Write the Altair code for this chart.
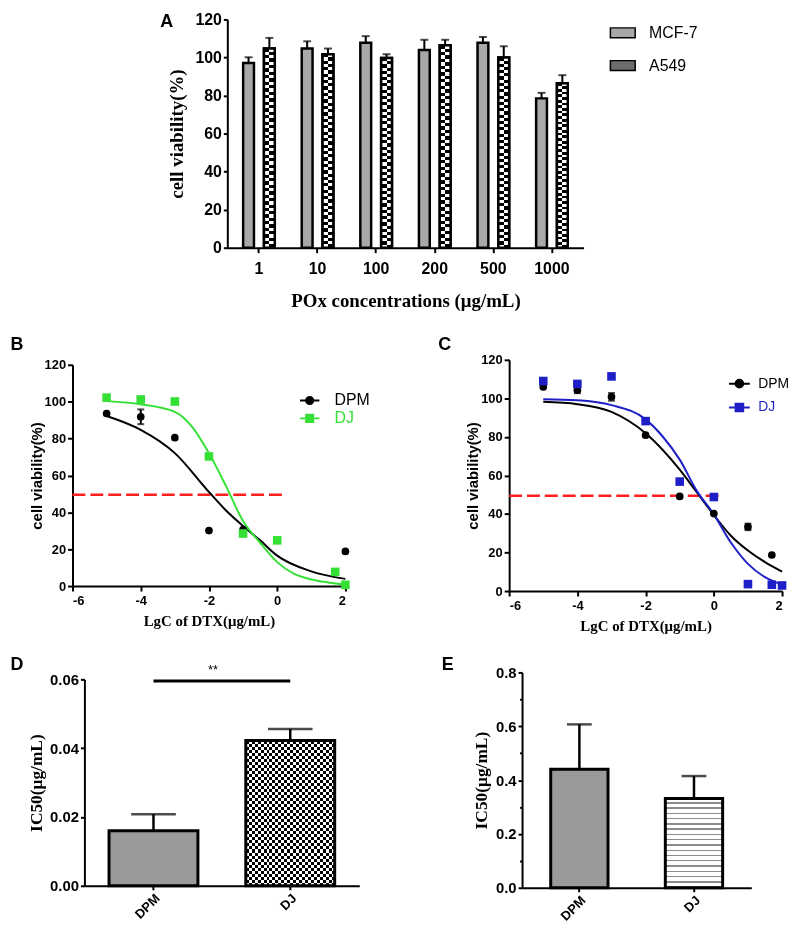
import altair as alt
import pandas as pd

# ---------------- Panel A: POx cytotoxicity ----------------
conc = ["1", "10", "100", "200", "500", "1000"]
cell_lines = ["MCF-7", "A549"]
mcf7_mean = [97.1, 104.7, 107.8, 103.9, 107.8, 78.5]
mcf7_sd = [3.0, 3.8, 3.4, 5.4, 3.0, 2.9]
a549_mean = [104.7, 101.7, 99.7, 106.4, 100.0, 86.4]
a549_sd = [5.6, 3.0, 2.0, 2.9, 5.9, 4.3]

# ---------------- Panel B: MCF-7 dose response ----------------
formulations = ["DPM", "DJ"]
b_dpm_x = [-5, -4, -3, -2, -1, 2]
b_dpm_y = [93.6, 91.8, 80.5, 30.1, 30.7, 18.8]
b_dpm_sd = [0, 4.0, 0, 0, 0, 0]
b_dj_x = [-5, -4, -3, -2, -1, 0, 1.7, 2]
b_dj_y = [102.2, 101.2, 100.1, 70.3, 28.5, 24.8, 7.7, 0.7]
b_dj_sd = [0, 0, 0, 0, 0, 0, 0, 0]
b_fit_dpm_x = [-5, -4, -3, -2, -1.5, -1, -0.5, 0, 1, 2]
b_fit_dpm_y = [92.2, 84.7, 72.1, 51.0, 41.0, 32.6, 24.8, 16.5, 8.0, 3.9]
b_fit_dj_x = [-5, -4, -3, -2.5, -2, -1.5, -1, -0.5, 0, 0.5, 1, 1.5, 2]
b_fit_dj_y = [100.3, 98.6, 94.5, 86.5, 72.1, 54.2, 35.3, 23.5, 13.0, 6.6, 3.6, 2.0, 0.9]
b_half_line = [-6, 0.2, 49.5]

# ---------------- Panel C: A549 dose response ----------------
c_dpm_x = [-5, -4, -3, -2, -1, 0, 1, 1.7]
c_dpm_y = [105.9, 104.2, 100.8, 80.9, 49.1, 40.2, 33.3, 18.7]
c_dpm_sd = [0, 1.5, 2.0, 0, 0, 0, 1.7, 0]
c_dj_x = [-5, -4, -3, -2, -1, 0, 1, 1.7, 2]
c_dj_y = [109.0, 107.5, 111.4, 88.2, 56.8, 48.8, 3.6, 3.3, 2.9]
c_dj_sd = [0.8, 1.5, 0, 0, 0, 0, 0, 0, 0]
c_fit_dpm_x = [-5, -4, -3, -2, -1, -0.5, 0, 0.5, 1, 1.5, 2]
c_fit_dpm_y = [98.2, 97.0, 93.0, 81.9, 63.0, 51.3, 39.5, 28.7, 21.0, 15.0, 10.1]
c_fit_dj_x = [-5, -4, -3, -2, -1.5, -1, -0.5, 0, 0.5, 1, 1.5, 2]
c_fit_dj_y = [99.6, 99.0, 96.5, 89.1, 80.2, 68.2, 52.0, 39.8, 25.2, 14.1, 7.2, 3.3]
c_half_line = [-6, 0.15, 49.5]

# ---------------- Panels D / E: IC50 ----------------
d_ic50 = [0.016, 0.0422]
d_sd = [0.0048, 0.0034]
d_sig = ["DPM", "DJ", 0.0595, "**"]
e_ic50 = [0.44, 0.332]
e_sd = [0.167, 0.083]

GREEN = "#35e035"
BLUE = "#1f1fc8"
RED = "#ff1f1f"
SANS = "Liberation Sans"
SERIF = "Liberation Serif"


def letter(ch, dx, dy):
    return alt.Chart(pd.DataFrame({"t": [ch]})).mark_text(
        font=SANS, fontWeight="bold", fontSize=18, color="black"
    ).encode(text="t:N", x=alt.value(dx), y=alt.value(dy))


def cells(n, vertical, c1="black", c2="white"):
    """Hard-edged stripes used as a fill texture (n equal cells)."""
    stops = []
    for i in range(n):
        col = c1 if i % 2 == 0 else c2
        stops += [alt.GradientStop(offset=i / n, color=col), alt.GradientStop(offset=(i + 1) / n, color=col)]
    if vertical:
        return alt.LinearGradient(gradient="linear", stops=stops, x1=0, x2=0, y1=0, y2=1)
    return alt.LinearGradient(gradient="linear", stops=stops, x1=0, x2=1, y1=0, y2=0)


def checker(base, enc, rows, cols, sw):
    """Checkerboard texture: row stripes XOR column stripes (difference blend), then outline."""
    return [
        base.mark_bar(fill=cells(rows, True), strokeWidth=0).encode(**enc),
        base.mark_bar(fill=cells(cols, False), strokeWidth=0, blend="difference").encode(**enc),
        base.mark_bar(fill="transparent", stroke="black", strokeWidth=sw).encode(**enc),
    ]


# ================= Panel A =================
dfA = pd.DataFrame({
    "conc": conc * 2,
    "line": ["MCF-7"] * len(conc) + ["A549"] * len(conc),
    "v": mcf7_mean + a549_mean,
    "e": mcf7_sd + a549_sd,
})
dfA["top"] = dfA["v"] + dfA["e"]

axAx = alt.Axis(title="POx concentrations (μg/mL)", labelAngle=0, labelFontSize=16,
                labelPadding=8, tickSize=5, titleFontSize=19, titlePadding=15)
axAy = alt.Axis(values=list(range(0, 121, 20)), title="cell viability(%)", labelFontSize=16,
                labelPadding=2, tickSize=4, titleFontSize=19, titlePadding=8)
sAy = alt.Scale(domain=[0, 120], nice=False)
xA = alt.X("conc:N", sort=conc, scale=alt.Scale(domain=conc, paddingInner=0.46, paddingOuter=0.27), axis=axAx)
xoA = alt.XOffset("line:N", sort=cell_lines, scale=alt.Scale(domain=cell_lines, paddingInner=0.48))

legA = alt.Legend(title=None, orient="none", legendX=385, legendY=0,
                  symbolType="M-1,-0.4H1V0.4H-1Z", symbolSize=625,
                  symbolStrokeColor="black", symbolStrokeWidth=1.5,
                  labelFont=SANS, labelFontSize=16, labelFontWeight="normal",
                  labelColor="black", labelOffset=13, rowPadding=11)
barsA = alt.Chart(dfA).mark_bar(stroke="black", strokeWidth=2.5).encode(
    x=xA, xOffset=xoA, y=alt.Y("v:Q", scale=sAy, axis=axAy),
    fill=alt.Fill("line:N", sort=cell_lines,
                  scale=alt.Scale(domain=cell_lines, range=["#a8a8a8", "#6c6c6c"]),
                  legend=legA),
)
a549_base = alt.Chart(dfA).transform_filter(alt.datum.line == "A549")
texA = checker(a549_base, dict(x=xA, xOffset=xoA, y=alt.Y("v:Q", scale=sAy, axis=axAy)), 60, 2, 2.5)
errA = alt.Chart(dfA).mark_rule(color="black", strokeWidth=2).encode(
    x=xA, xOffset=xoA, y=alt.Y("v:Q", scale=sAy, axis=axAy), y2="top:Q")
capA = alt.Chart(dfA).mark_tick(color="black", thickness=2, size=8, orient="horizontal").encode(
    x=xA, xOffset=xoA, y=alt.Y("top:Q", scale=sAy, axis=axAy))
panelA = alt.layer(errA, barsA, *texA, capA, letter("A", -61, 3)).properties(width=359, height=230)


# ================= Panels B / C =================
def curve_panel(dpm, dj, fit_dpm, fit_dj, half, dj_color, ch, lpos, leg, w, h):
    pts = pd.concat([
        pd.DataFrame({"x": dpm[0], "y": dpm[1], "e": dpm[2], "grp": "DPM"}),
        pd.DataFrame({"x": dj[0], "y": dj[1], "e": dj[2], "grp": "DJ"}),
    ])
    pts["lo"] = pts["y"] - pts["e"]
    pts["hi"] = pts["y"] + pts["e"]
    fit = pd.concat([
        pd.DataFrame({"x": fit_dpm[0], "y": fit_dpm[1], "grp": "DPM"}),
        pd.DataFrame({"x": fit_dj[0], "y": fit_dj[1], "grp": "DJ"}),
    ])
    ref = pd.DataFrame({"x0": [half[0]], "x1": [half[1]], "y": [half[2]]})

    axX = alt.Axis(values=[-6, -4, -2, 0, 2], title="LgC of DTX(μg/mL)", labelFontSize=13,
                   labelExpr="'' + datum.value",
                   labelPadding=4, tickSize=5, titleFontSize=15, titlePadding=6)
    axY = alt.Axis(values=list(range(0, 121, 20)), title="cell viability(%)", labelFontSize=13,
                   labelPadding=2, tickSize=5, titleFont=SANS, titleFontSize=15, titlePadding=0)
    sx = alt.Scale(domain=[-6, 2], nice=False)
    sy = alt.Scale(domain=[0, 120], nice=False)

    def X(f):
        return alt.X(f, scale=sx, axis=axX)

    def Y(f):
        return alt.Y(f, scale=sy, axis=axY)

    circ = "M-1.5,0H1.5M-0.55,0A0.55,0.55,0,1,0,0.55,0A0.55,0.55,0,1,0,-0.55,0Z"
    sq = "M-1.5,0H1.5M-0.55,-0.55H0.55V0.55H-0.55Z"
    pick = "datum.value === 'DPM' ? '%s' : '%s'"
    legend = alt.Legend(
        title=None, orient="none", legendX=leg[0], legendY=leg[1], symbolSize=leg[2],
        symbolStrokeWidth=2, labelFont=SANS, labelFontSize=leg[3], labelFontWeight="normal",
        labelOffset=leg[4], rowPadding=leg[5],
        symbolType={"expr": pick % (circ, sq)},
        symbolFillColor={"expr": pick % ("black", dj_color)},
        symbolStrokeColor={"expr": pick % ("black", dj_color)},
        labelColor={"expr": pick % ("black", dj_color)},
        symbolOpacity=1,
    )

    refl = alt.Chart(ref).mark_rule(color=RED, strokeWidth=2.5, strokeDash=[13, 5]).encode(
        x=X("x0:Q"), x2="x1:Q", y=Y("y:Q"))
    lines = alt.Chart(fit).mark_line(strokeWidth=2, interpolate="monotone").encode(
        x=X("x:Q"), y=Y("y:Q"),
        color=alt.Color("grp:N", sort=formulations,
                        scale=alt.Scale(domain=formulations, range=["black", dj_color]),
                        legend=legend))
    errs = pts[pts["e"] > 0]
    err_layers = []
    for g, col in (("DPM", "black"), ("DJ", dj_color)):
        sub = errs[errs["grp"] == g]
        if len(sub):
            err_layers.append(alt.Chart(sub).mark_rule(color=col, strokeWidth=2).encode(
                x=X("x:Q"), y=Y("lo:Q"), y2="hi:Q"))
            err_layers.append(alt.Chart(sub).mark_tick(color=col, thickness=2, size=7, orient="horizontal").encode(
                x=X("x:Q"), y=Y("lo:Q")))
            err_layers.append(alt.Chart(sub).mark_tick(color=col, thickness=2, size=7, orient="horizontal").encode(
                x=X("x:Q"), y=Y("hi:Q")))
    p_dpm = alt.Chart(pts[pts["grp"] == "DPM"]).mark_point(
        shape="circle", filled=True, size=60, color="black", opacity=1).encode(x=X("x:Q"), y=Y("y:Q"))
    p_dj = alt.Chart(pts[pts["grp"] == "DJ"]).mark_point(
        shape="square", filled=True, size=75, color=dj_color, opacity=1).encode(x=X("x:Q"), y=Y("y:Q"))
    return alt.layer(refl, lines, *err_layers, p_dpm, p_dj, letter(ch, lpos[0], lpos[1])).properties(
        width=w, height=h)


panelB = curve_panel((b_dpm_x, b_dpm_y, b_dpm_sd), (b_dj_x, b_dj_y, b_dj_sd),
                     (b_fit_dpm_x, b_fit_dpm_y), (b_fit_dj_x, b_fit_dj_y), b_half_line,
                     GREEN, "B", (-56, -20), (231, 28, 169, 16, 17, 2), 275, 223)
panelC = curve_panel((c_dpm_x, c_dpm_y, c_dpm_sd), (c_dj_x, c_dj_y, c_dj_sd),
                     (c_fit_dpm_x, c_fit_dpm_y), (c_fit_dj_x, c_fit_dj_y), c_half_line,
                     BLUE, "C", (-65, -15), (224, 16, 196, 14, 11, 8), 275, 233)


# ================= Panels D / E =================
def hstripes(n, line_col, frac):
    stops = []
    for k in range(n):
        a = k / n
        b = a + frac / n
        c = (k + 1) / n
        stops += [alt.GradientStop(offset=a, color="white"), alt.GradientStop(offset=b, color="white"),
                  alt.GradientStop(offset=b, color=line_col), alt.GradientStop(offset=c, color=line_col)]
    return alt.LinearGradient(gradient="linear", stops=stops, x1=0, x2=0, y1=0, y2=1)


def ic50_panel(vals, sds, dom, step, fmt, minor, fills, ch, lpos, w, h, pad_in, pad_out, cap,
               sig=None, check=None):
    df = pd.DataFrame({"g": formulations, "v": vals, "e": sds})
    df["top"] = df["v"] + df["e"]
    if minor:
        half = step / 2
        vals_axis = [round(i * half, 4) for i in range(int(round(dom / half)) + 1)]
        test = "round(datum.value / %g) %% 2 == 1" % half
        axY = alt.Axis(values=vals_axis, title="IC50(μg/mL)", labelFontSize=15, labelPadding=2,
                       tickSize={"condition": {"test": test, "value": 2.5}, "value": 4},
                       labelExpr="%s ? '' : format(datum.value, '%s')" % (test, fmt),
                       titleFontSize=17.5, titlePadding=5)
    else:
        vals_axis = [round(i * step, 4) for i in range(int(round(dom / step)) + 1)]
        axY = alt.Axis(values=vals_axis, title="IC50(μg/mL)", labelFontSize=15, labelPadding=2,
                       tickSize=4, format=fmt, titleFontSize=17.5, titlePadding=4)
    axX = alt.Axis(title=None, labelAngle=-45, labelFontSize=13, labelPadding=2, tickSize=4)
    sxb = alt.Scale(domain=formulations, paddingInner=pad_in, paddingOuter=pad_out)
    X = alt.X("g:N", sort=formulations, scale=sxb, axis=axX)
    sy = alt.Scale(domain=[0, dom], nice=False)
    layers = []
    for g, f in zip(formulations, fills):
        base = alt.Chart(df).transform_filter(alt.datum.g == g)
        enc = dict(x=X, y=alt.Y("v:Q", scale=sy, axis=axY))
        if check is not None and check[0] == g:
            layers += checker(base, enc, check[1], check[2], 3)
        else:
            layers.append(base.mark_bar(fill=f, stroke="black", strokeWidth=3).encode(**enc))
    layers.append(alt.Chart(df).mark_rule(color="black", strokeWidth=2.5).encode(
        x=X, y=alt.Y("v:Q", scale=sy, axis=axY), y2="top:Q"))
    layers.append(alt.Chart(df).mark_tick(color="black", thickness=2.5, size=cap, orient="horizontal").encode(
        x=X, y=alt.Y("top:Q", scale=sy, axis=axY)))
    if sig is not None:
        sdf = pd.DataFrame({"a": [sig[0]], "b": [sig[1]], "y": [sig[2]], "t": [sig[3]]})
        layers.append(alt.Chart(sdf).mark_rule(color="black", strokeWidth=3).encode(
            x=alt.X("a:N", sort=formulations, scale=sxb, axis=axX),
            x2="b:N", y=alt.Y("y:Q", scale=sy, axis=axY)))
        layers.append(alt.Chart(sdf).mark_text(font=SANS, fontSize=13, dy=-11, color="black").encode(
            text="t:N", x=alt.value(w / 2 - 9), y=alt.Y("y:Q", scale=sy, axis=axY)))
    layers.append(letter(ch, lpos[0], lpos[1]))
    return alt.layer(*layers).properties(width=w, height=h)


panelD = ic50_panel(d_ic50, d_sd, 0.06, 0.02, ".2f", False, ["#9a9a9a", "#7a7a7a"], "D", (-68, -14),
                    277, 208, 0.35, 0.18, 45, sig=d_sig, check=("DJ", 48, 30))
panelE = ic50_panel(e_ic50, e_sd, 0.8, 0.2, ".1f", True, ["#9a9a9a", hstripes(17, "#8c8c8c", 0.72)], "E",
                    (-75, -7), 231, 217, 0.5, 0.25, 25)


def spacer():
    return alt.Chart(pd.DataFrame({"a": [0]})).mark_point(opacity=0, size=1).encode(
        x=alt.value(0), y=alt.value(0)).properties(width=1, height=1)


def indep(c):
    return c.resolve_scale(color="independent", fill="independent").resolve_legend(
        color="independent", fill="independent")


def top_pad(p):
    return indep(alt.vconcat(spacer(), p, spacing=0))


rowA = indep(alt.hconcat(spacer(), panelA, spacing=151))
rowBC = indep(alt.hconcat(spacer(), indep(alt.hconcat(top_pad(panelB), top_pad(panelC), spacing=68)), spacing=0))
rowDE = indep(alt.hconcat(spacer(), indep(alt.hconcat(top_pad(panelD), top_pad(panelE), spacing=82)), spacing=0))

chart = indep(alt.vconcat(rowA, indep(alt.vconcat(rowBC, rowDE, spacing=21)), spacing=24)).properties(
    padding={"left": 0, "top": 0, "right": 0, "bottom": 0}
).configure_axis(
    domainColor="black", domainWidth=2, tickColor="black", tickWidth=2, labelColor="black",
    titleColor="black", grid=False, labelFont=SANS, labelFontWeight="bold", titleFont=SERIF,
    titleFontWeight="bold", labelOverlap=False
).configure_view(stroke=None)

chart.save("out.html", embed_options={"renderer": "svg", "actions": False})
